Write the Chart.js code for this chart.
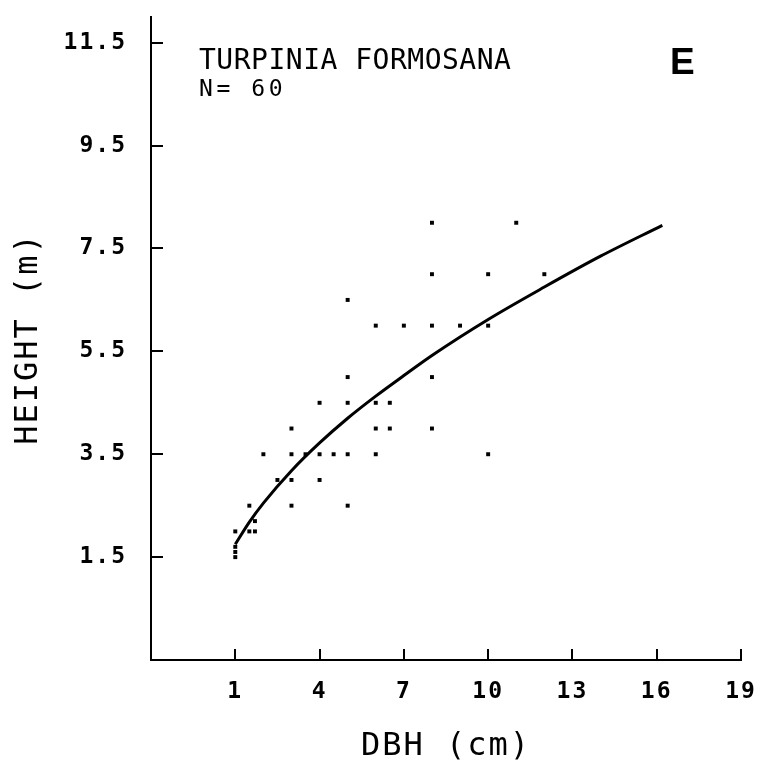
<!DOCTYPE html>
<html>
<head>
<meta charset="utf-8">
<script src="https://cdn.jsdelivr.net/npm/chart.js@4.4.0/dist/chart.umd.min.js"></script>
<style>
  html, body { margin: 0; padding: 0; background: #fff; }
</style>
</head>
<body>
<canvas id="chart" width="763" height="768"></canvas>
<script>
// observed trees: diameter at breast height (cm) and height (m)
const dbh = [1, 1, 1, 1, 1.5, 1.5, 1.7, 1.7, 2, 2.5, 3, 3, 3, 3, 3.5, 4, 4, 4, 4.5,
  5, 5, 5, 5, 5, 6, 6, 6, 6, 6.5, 6.5, 7, 8, 8, 8, 8, 8, 9, 10, 10, 10, 11, 12];
const height = [1.5, 1.6, 1.7, 2.0, 2.0, 2.5, 2.0, 2.2, 3.5, 3.0, 2.5, 3.0, 3.5, 4.0, 3.5, 3.0, 3.5, 4.5, 3.5,
  2.5, 3.5, 4.5, 5.0, 6.5, 3.5, 4.0, 4.5, 6.0, 4.0, 4.5, 6.0, 4.0, 5.0, 6.0, 7.0, 8.0, 6.0, 3.5, 6.0, 7.0, 8.0, 7.0];

// fitted height curve
const fitDbh = [1, 1.5, 2, 3, 4, 5, 6, 7, 8, 10, 12, 14, 16.2];
const fitHeight = [1.75, 2.18, 2.55, 3.18, 3.72, 4.2, 4.63, 5.03, 5.42, 6.12, 6.75, 7.35, 7.95];

const xTicks = [1, 4, 7, 10, 13, 16, 19];
const yTicks = [1.5, 3.5, 5.5, 7.5, 9.5, 11.5];

const MONO = '"DejaVu Sans Mono", "Liberation Mono", monospace';

// keep the plot box fixed: no extra room for overhanging tick labels
function fixBox(s) {
  s.paddingTop = 0;
  s.paddingBottom = 0;
  s.paddingLeft = 0;
  s.paddingRight = 0;
}

// inward tick marks plus the species note and panel letter
const plotterMarks = {
  id: 'plotterMarks',
  beforeDraw(chart) {
    chart.ctx.letterSpacing = '2px';
  },
  afterDraw(chart) {
    const { ctx, chartArea, scales: { x, y } } = chart;
    ctx.save();
    ctx.strokeStyle = '#000';
    ctx.lineWidth = 2;
    ctx.beginPath();
    x.ticks.forEach(t => {
      const px = Math.round(x.getPixelForValue(t.value));
      ctx.moveTo(px, chartArea.bottom);
      ctx.lineTo(px, chartArea.bottom - 11);
    });
    y.ticks.forEach(t => {
      const py = Math.round(y.getPixelForValue(t.value));
      ctx.moveTo(chartArea.left, py);
      ctx.lineTo(chartArea.left + 12, py);
    });
    ctx.stroke();

    ctx.fillStyle = '#000';
    ctx.textAlign = 'left';
    ctx.textBaseline = 'alphabetic';
    ctx.font = '28px ' + MONO;
    ctx.letterSpacing = '0.5px';
    ctx.fillText('TURPINIA FORMOSANA', 199, 69);
    ctx.font = '23px ' + MONO;
    ctx.letterSpacing = '3.6px';
    ctx.fillText('N= 60', 199, 96);
    ctx.font = 'bold 37px "Liberation Sans", Arial, sans-serif';
    ctx.letterSpacing = '0px';
    ctx.fillText('E', 670, 74);
    ctx.restore();
  }
};

const points = dbh.map((d, i) => ({ x: d, y: height[i] }));
const curve = fitDbh.map((d, i) => ({ x: d, y: fitHeight[i] }));

new Chart(document.getElementById('chart'), {
  type: 'scatter',
  data: {
    datasets: [
      {
        data: points,
        pointStyle: 'rect',
        pointRadius: 2.8,
        pointBackgroundColor: '#000',
        pointBorderWidth: 0,
        showLine: false
      },
      {
        data: curve,
        showLine: true,
        borderColor: '#000',
        borderWidth: 3,
        pointRadius: 0,
        cubicInterpolationMode: 'monotone'
      }
    ]
  },
  options: {
    responsive: false,
    animation: false,
    layout: { autoPadding: false, padding: { top: 17, right: 22, left: 0, bottom: 0 } },
    plugins: { legend: { display: false }, tooltip: { enabled: false } },
    scales: {
      x: {
        type: 'linear',
        min: -2,
        max: 19,
        afterBuildTicks: s => { s.ticks = xTicks.map(v => ({ value: v })); },
        afterFit: s => { s.height = 108; fixBox(s); },
        grid: { display: true, drawOnChartArea: false, drawTicks: false, color: 'rgba(0,0,0,0)' },
        border: { display: true, color: '#000', width: 2 },
        ticks: { color: '#000', padding: 18, maxRotation: 0, font: { family: MONO, size: 23, weight: 'bold' } },
        title: {
          display: true,
          text: 'DBH (cm)',
          color: '#000',
          padding: { top: 0, bottom: 2 },
          font: { family: MONO, size: 32 }
        }
      },
      y: {
        type: 'linear',
        min: -0.5,
        max: 12,
        afterBuildTicks: s => { s.ticks = yTicks.map(v => ({ value: v })); },
        afterFit: s => { s.width = 151; fixBox(s); },
        grid: { display: true, drawOnChartArea: false, drawTicks: false, color: 'rgba(0,0,0,0)' },
        border: { display: true, color: '#000', width: 2 },
        ticks: { color: '#000', padding: 24, font: { family: MONO, size: 23, weight: 'bold' } },
        title: {
          display: true,
          text: 'HEIGHT (m)',
          color: '#000',
          padding: { top: 9, bottom: 0 },
          font: { family: MONO, size: 32 }
        }
      }
    }
  },
  plugins: [plotterMarks]
});
</script>
</body>
</html>
